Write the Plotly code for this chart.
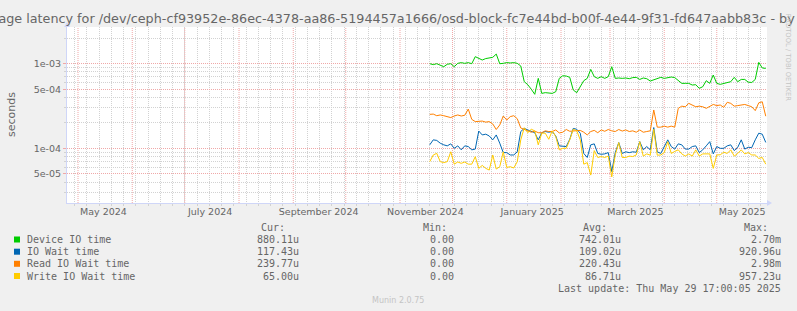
import numpy as np
import pandas as pd
import plotly.graph_objects as go

# ---------------- data ----------------
dates = pd.date_range("2024-11-18", periods=97, freq="2D")

device_io_us = [1000, 975, 1000, 955, 922, 985, 1000, 922, 1010, 1030,
                1010, 1030, 1000, 1211, 1150, 1106, 1150, 1160, 1190, 1300,
                1000, 1010, 1030, 1020, 1030, 1010, 940, 613, 565, 500,
                435, 671, 446, 455, 446, 446, 467, 671, 720, 715,
                690, 489, 455, 535, 630, 671, 857, 703, 671, 703,
                671, 703, 922, 671, 678, 671, 678, 665, 685, 690,
                652, 678, 665, 624, 642, 671, 690, 671, 690, 696,
                685, 630, 586, 586, 586, 560, 565, 511, 535, 630,
                586, 735, 586, 570, 586, 600, 613, 690, 613, 652,
                652, 605, 600, 652, 1037, 890, 880.11]

io_wait_us = [110, 126, 124, 115, 110, 107, 113, 100, 107, 96,
              107, 105, 96, 98, 160, 144, 147, 140, 126, 144,
              115, 89, 89, 83.5, 83.5, 91, 158, 172, 165, 158,
              153, 126, 153, 158, 155, 158, 140, 107, 105, 105,
              128, 172, 168, 151, 87, 78, 110, 113, 87, 85,
              86, 89, 53, 89, 117, 87, 91, 89, 91, 90,
              120, 96, 105, 96, 176, 91, 87, 103, 126, 105,
              98, 113, 110, 98, 98, 105, 107, 89, 96, 107,
              120, 86, 105, 100, 100, 107, 110, 94, 103, 126,
              98, 103, 102, 126, 151, 147, 117.43]

read_wait_us = [252, 254, 243, 248, 243, 237, 231, 241, 248, 241,
                246, 291, 220, 207, 210, 210, 204, 207, 194, 167,
                189, 241, 216, 237, 243, 224, 174, 167, 161, 155,
                160, 153, 153, 161, 158, 158, 165, 152, 155, 167,
                159, 160, 161, 163, 155, 144, 158, 163, 153, 165,
                159, 167, 161, 158, 167, 160, 165, 158, 161, 155,
                165, 155, 158, 161, 284, 178, 178, 183, 178, 183,
                178, 297, 315, 310, 340, 325, 310, 315, 310, 297,
                315, 330, 320, 325, 305, 350, 340, 315, 320, 325,
                330, 320, 310, 279, 345, 355, 239.77]

write_wait_us = [69.6, 83.5, 87.3, 69.6, 67.8, 69.6, 91, 65, 69, 66.5,
                 69, 65, 65, 79.7, 58, 62.9, 58, 55.4, 83.5, 56.9,
                 60.7, 91, 59.5, 60.7, 58.5, 69.6, 126, 175, 153, 168,
                 161, 110, 151, 151, 128, 161, 138, 96, 100, 100,
                 126, 168, 161, 126, 65, 67.8, 48.3, 94, 78, 80,
                 78, 81, 46, 83.5, 117, 78, 78, 81, 80, 83.5,
                 120, 81, 86, 83, 168, 83, 83.5, 89, 120, 87,
                 92, 96, 86, 81, 86, 81, 96, 81, 86, 86,
                 86, 58, 83.5, 84, 90, 87, 96, 81, 87, 96,
                 86, 89, 83.5, 83.5, 76, 78, 65]

series_names = ["Device IO time", "IO Wait time", "Read IO Wait time", "Write IO Wait time"]
series_colors = ["#00CC00", "#0066B3", "#FF8000", "#FFCC00"]
series_values = [device_io_us, io_wait_us, read_wait_us, write_wait_us]
cur_vals = ["880.11u", "117.43u", "239.77u", "65.00u"]
min_vals = ["0.00", "0.00", "0.00", "0.00"]
avg_vals = ["742.01u", "109.02u", "220.43u", "86.71u"]
max_vals = ["2.70m", "920.96u", "2.98m", "957.23u"]

y_tick_vals = [5e-5, 1e-4, 5e-4, 1e-3]
y_tick_text = ["5e-05", "1e-04", "5e-04", "1e-03"]
y_minor_vals = [3e-5, 4e-5, 6e-5, 7e-5, 8e-5, 9e-5, 2e-4, 3e-4, 4e-4, 6e-4, 7e-4, 8e-4, 9e-4, 2e-3]

x_label_dates = ["2024-05-15 12:00", "2024-07-15 12:00", "2024-09-15 12:00", "2024-11-15 12:00",
                 "2025-01-15 12:00", "2025-03-15 12:00", "2025-05-15 12:00"]
x_label_text = ["May 2024", "July 2024", "September 2024", "November 2024",
                "January 2025", "March 2025", "May 2025"]
month_starts = pd.date_range("2024-05-01", "2025-05-01", freq="MS")
week_starts = pd.date_range("2024-04-29", "2025-05-26", freq="7D")

x_start, x_end = "2024-04-24 17:00", "2025-05-29 17:00"

title_text = ("Average latency for /dev/ceph-cf93952e-86ec-4378-aa86-5194457a1666/"
              "osd-block-fc7e44bd-b00f-4e44-9f31-fd647aabb83c - by year")

# ---------------- layout geometry ----------------
W, H = 797, 311
L, R, T, B = 67, 30, 27, 108
PW, PH = W - L - R, H - T - B


def px_x(px):
    return (px - L) / PW


def px_y(py):
    return (H - B - py) / PH


FONT_COL = "#666666"
AXIS_COL = "#CFD6F8"
GRID_COL = "#d2d2d2"
MGRID_COL = "#f0a8a8"

fig = go.Figure()
for name, col, vals in zip(series_names, series_colors, series_values):
    fig.add_trace(go.Scatter(x=dates, y=np.array(vals) * 1e-6, mode="lines", name=name,
                             line=dict(color=col, width=1), showlegend=False,
                             hoverinfo="skip"))

shapes = []
for m in month_starts:
    shapes.append(dict(type="line", xref="x", yref="paper", x0=m, x1=m, y0=0, y1=1,
                       line=dict(color=MGRID_COL, width=1, dash="1px,1px"), layer="between"))
# axis arrows
shapes.append(dict(type="path", xref="paper", yref="paper",
                   path=f"M {px_x(767)},{px_y(200)} L {px_x(772)},{px_y(203)} L {px_x(767)},{px_y(206)} Z",
                   fillcolor=AXIS_COL, line=dict(width=0)))
shapes.append(dict(type="path", xref="paper", yref="paper",
                   path=f"M {px_x(64)},{px_y(27)} L {px_x(67)},{px_y(22)} L {px_x(70)},{px_y(27)} Z",
                   fillcolor=AXIS_COL, line=dict(width=0)))
shapes.append(dict(type="line", xref="paper", yref="paper", x0=px_x(767), x1=px_x(770),
                   y0=0, y1=0, line=dict(color=AXIS_COL, width=1)))

mono = "DejaVu Sans Mono"
ann = []
row_y = [239.5, 251.7, 263.8, 276.0]
head_y = 227.5
for lbl, xr in [("Cur:", 287), ("Min:", 449), ("Avg:", 609), ("Max:", 770)]:
    ann.append(dict(text=lbl, x=px_x(xr), y=px_y(head_y), xref="paper", yref="paper",
                    xanchor="right", yanchor="middle", showarrow=False,
                    font=dict(family=mono, size=10, color=FONT_COL)))
for i, name in enumerate(series_names):
    yy = px_y(row_y[i])
    shapes.append(dict(type="rect", xref="paper", yref="paper",
                       x0=px_x(14), x1=px_x(20), y0=px_y(row_y[i] + 3), y1=px_y(row_y[i] - 3),
                       fillcolor=series_colors[i], line=dict(width=0)))
    ann.append(dict(text=name, x=px_x(25), y=yy, xref="paper", yref="paper",
                    xanchor="left", yanchor="middle", showarrow=False,
                    font=dict(family=mono, size=10, color=FONT_COL)))
    for txt, xr in [(cur_vals[i], 301), (min_vals[i], 456), (avg_vals[i], 623), (max_vals[i], 783)]:
        ann.append(dict(text=txt, x=px_x(xr), y=yy, xref="paper", yref="paper",
                        xanchor="right", yanchor="middle", showarrow=False,
                        font=dict(family=mono, size=10, color=FONT_COL)))
ann.append(dict(text="Last update: Thu May 29 17:00:05 2025", x=px_x(783), y=px_y(288),
                xref="paper", yref="paper", xanchor="right", yanchor="middle", showarrow=False,
                font=dict(family=mono, size=10, color=FONT_COL)))
ann.append(dict(text="Munin 2.0.75", x=px_x(398), y=px_y(300), xref="paper", yref="paper",
                xanchor="center", yanchor="middle", showarrow=False,
                font=dict(family="DejaVu Sans", size=8, color="#c4c4c4")))
ann.append(dict(text="RRDTOOL / TOBI OETIKER", x=px_x(788), y=px_y(57.5), xref="paper", yref="paper",
                xanchor="center", yanchor="middle", showarrow=False, textangle=90,
                font=dict(family="DejaVu Sans", size=6.8, color="#c4c4c4")))
ann.append(dict(text="seconds", x=px_x(11), y=0.5, xref="paper", yref="paper",
                xanchor="center", yanchor="middle", showarrow=False, textangle=-90,
                font=dict(family="DejaVu Sans", size=11, color=FONT_COL)))

fig.update_layout(
    width=W, height=H, autosize=False,
    margin=dict(l=L, r=R, t=T, b=B, pad=0),
    paper_bgcolor="#F0F0F0", plot_bgcolor="#FFFFFF",
    font=dict(family="DejaVu Sans", color=FONT_COL, size=10),
    title=dict(text=title_text, x=0.5, xref="container", xanchor="center",
               y=1 - 19 / H, yref="container", yanchor="middle",
               font=dict(family="DejaVu Sans", size=12.75, color=FONT_COL)),
    showlegend=False,
    shapes=shapes, annotations=ann,
    xaxis=dict(type="date", range=[x_start, x_end], tickmode="array",
               tickvals=x_label_dates, ticktext=x_label_text, showgrid=False,
               ticks="", tickfont=dict(size=9.5, color=FONT_COL),
               showline=True, linecolor=AXIS_COL, linewidth=1, zeroline=False,
               minor=dict(tickmode="array", tickvals=week_starts, showgrid=True,
                          gridcolor=GRID_COL, griddash="1px,1px", gridwidth=1,
                          ticks="outside", ticklen=2, tickcolor=GRID_COL)),
    yaxis=dict(type="log", range=[np.log10(2.26e-5), np.log10(2.715e-3)], tickmode="array",
               tickvals=y_tick_vals, ticktext=y_tick_text, showgrid=True,
               gridcolor=MGRID_COL, griddash="1px,1px", gridwidth=1,
               ticks="outside", ticklen=3, tickcolor=MGRID_COL,
               tickfont=dict(size=9.5, color=FONT_COL),
               showline=True, linecolor=AXIS_COL, linewidth=1, zeroline=False,
               minor=dict(tickmode="array", tickvals=y_minor_vals, showgrid=True,
                          gridcolor=GRID_COL, griddash="1px,1px", gridwidth=1,
                          ticks="outside", ticklen=2, tickcolor=GRID_COL)),
)

fig.write_html("out.html")
